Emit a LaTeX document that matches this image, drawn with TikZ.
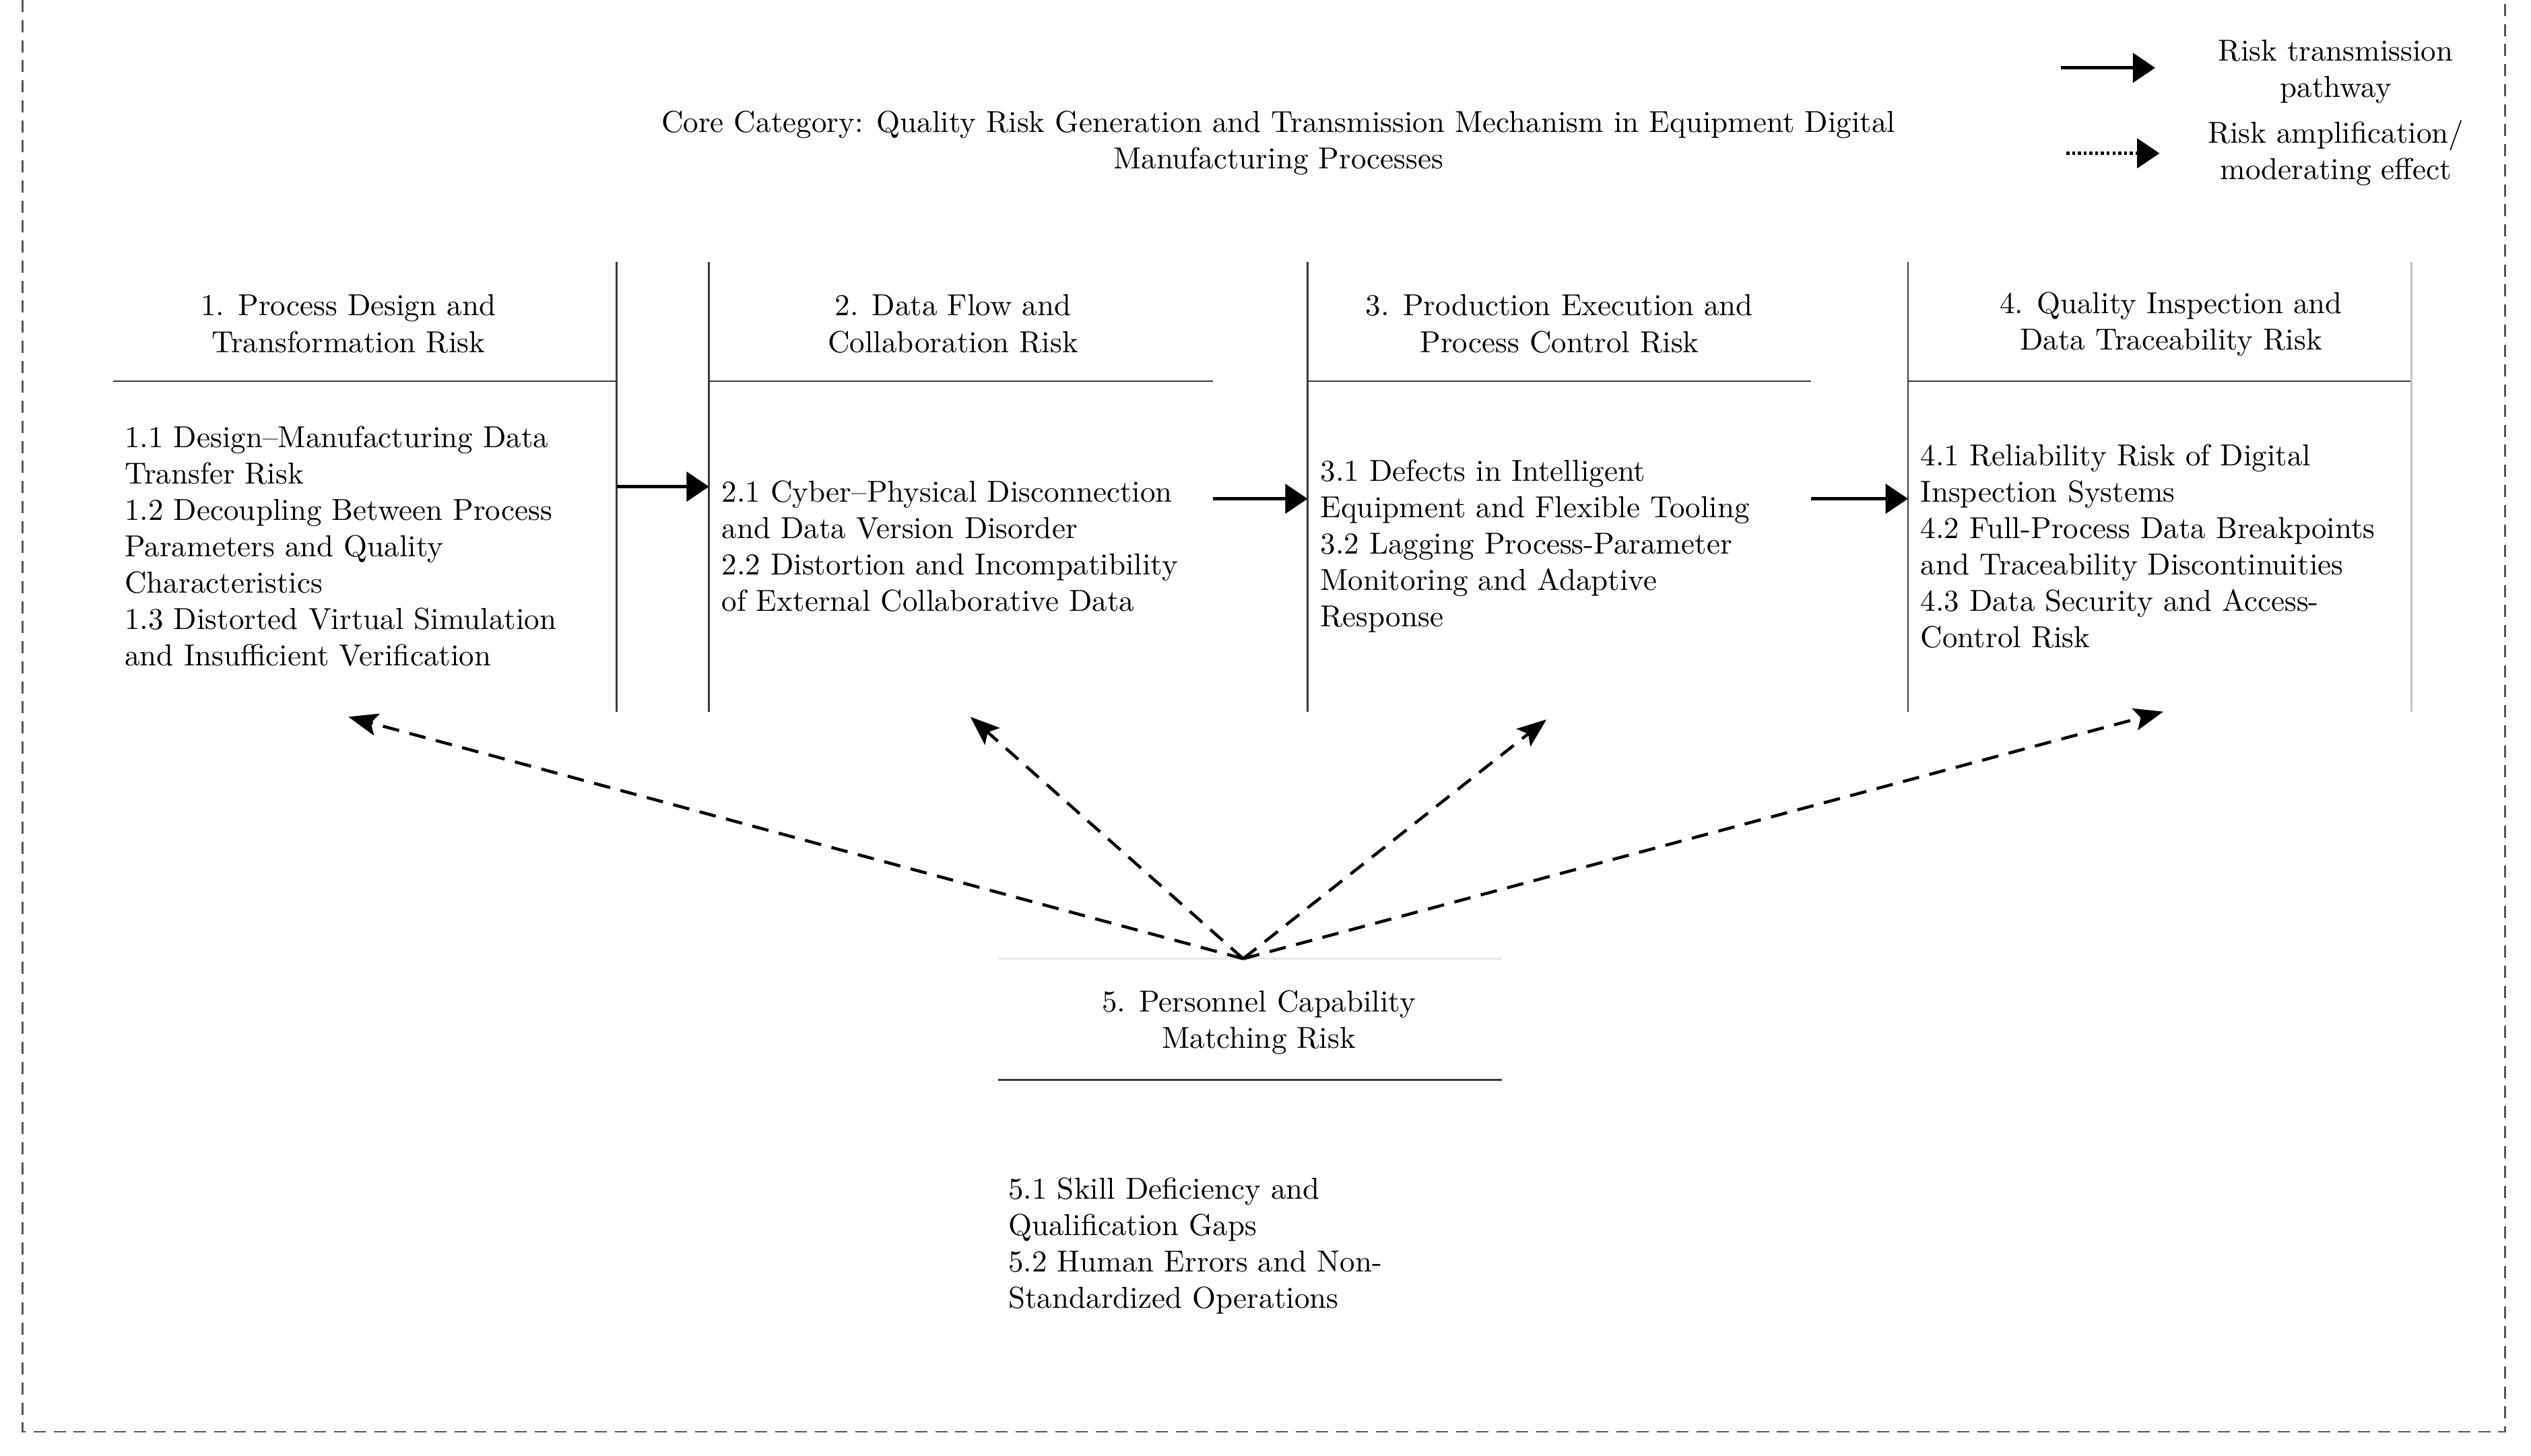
\documentclass[tikz,border=0pt]{standalone}
\usepackage{tikz}
\usetikzlibrary{arrows.meta,positioning,calc}
\definecolor{rulegray}{HTML}{3A3A3A}
\definecolor{framegray}{HTML}{555555}
\definecolor{fadegray}{HTML}{C4C4C4}
\definecolor{fadeblue}{HTML}{E2EAEE}
\tikzset{
  riskcol/.style={
    rectangle,
    draw=none,
    inner sep=0pt,
    outer sep=0pt,
    minimum width=5.83cm,
    minimum height=5.21cm
  },
  head/.style={align=center, inner sep=0pt, font=\normalsize},
  body/.style={align=left, anchor=west, inner sep=0pt, font=\normalsize},
  rule/.style={draw=rulegray, line width=0.6pt},
  line/.style={-{Triangle[length=2.6mm,width=3.4mm]}, line width=1.1pt, draw=black},
  dotline/.style={-{Triangle[length=2.6mm,width=3.4mm]}, line width=1pt, dash pattern=on 1pt off 0.9pt},
  effect/.style={-{Stealth[length=3.4mm,width=2.6mm,inset=0.7mm]}, line width=1pt, dash pattern=on 5.5pt off 3.5pt},
  outerframe/.style={draw=framegray, line width=0.6pt, dash pattern=on 4pt off 2.6pt}
}
\begin{document}
\begin{tikzpicture}
  \useasboundingbox (0,0) rectangle (29.3,-16.855);
  \draw[outerframe] (0.262,0) -- (0.262,-16.575) -- (29.0,-16.575) -- (29.0,0);

  \node[head] (title) at (14.8,-1.654) {Core Category: Quality Risk Generation and Transmission Mechanism in Equipment Digital\\Manufacturing Processes};

  \coordinate (solidA) at (23.86,-0.785);
  \coordinate (solidB) at (24.95,-0.785);
  \coordinate (dotA) at (23.92,-1.775);
  \coordinate (dotB) at (25.0,-1.775);
  \node[head] (legsolid) at (27.04,-0.832) {Risk transmission\\pathway};
  \node[head] (legdot) at (27.04,-1.775) {Risk amplification/\\moderating effect};
  \draw[line] (solidA) -- (solidB);
  \draw[dotline] (dotA) -- (dotB);

  \node[riskcol] (c1) at (4.223,-5.634) {};
  \node[riskcol, right=1.07cm of c1] (c2) {};
  \node[riskcol, right=1.10cm of c2] (c3) {};
  \node[riskcol, right=1.12cm of c3] (c4) {};
  \node[riskcol, anchor=north] (c5) at (14.472,-11.099) {};

  \node[head] (h1) at ([xshift=-0.19cm,yshift=-0.72cm]c1.north) {1. Process Design and\\Transformation Risk};
  \node[head] (h2) at ([xshift=-0.09cm,yshift=-0.72cm]c2.north) {2. Data Flow and\\Collaboration Risk};
  \node[head] (h3) at ([yshift=-0.72cm]c3.north) {3. Production Execution and\\Process Control Risk};
  \node[head] (h4) at ([xshift=0.13cm,yshift=-0.72cm]c4.north) {4. Quality Inspection and\\Data Traceability Risk};
  \node[head] (h5) at ([xshift=0.1cm,yshift=-0.74cm]c5.north) {5. Personnel Capability\\Matching Risk};

  \foreach \c in {c1,c2,c3,c4}
    \draw[rule] ([yshift=-1.383cm]\c.north west) -- ([yshift=-1.383cm]\c.north east);
  \draw[rule] ([yshift=-1.401cm]c5.north west) -- ([yshift=-1.401cm]c5.north east);
  \draw[draw=fadeblue, line width=0.6pt] (c5.north west) -- (c5.north east);

  \draw[rule] (c1.north east) -- (c1.south east);
  \draw[rule] (c2.north west) -- (c2.south west);
  \draw[rule] (c3.north west) -- (c3.south west);
  \draw[rule] (c4.north west) -- (c4.south west);
  \draw[draw=fadegray, line width=0.6pt] (c4.north east) -- (c4.south east);

  \node[body] (b1) at ([xshift=0.13cm,yshift=-0.69cm]c1.west) {1.1 Design--Manufacturing Data\\Transfer Risk\\1.2 Decoupling Between Process\\Parameters and Quality\\Characteristics\\1.3 Distorted Virtual Simulation\\and Insufficient Verification};
  \node[body] (b2) at ([xshift=0.14cm,yshift=-0.69cm]c2.west) {2.1 Cyber--Physical Disconnection\\and Data Version Disorder\\2.2 Distortion and Incompatibility\\of External Collaborative Data};
  \node[body] (b3) at ([xshift=0.14cm,yshift=-0.69cm]c3.west) {3.1 Defects in Intelligent\\Equipment and Flexible Tooling\\3.2 Lagging Process-Parameter\\Monitoring and Adaptive\\Response};
  \node[body] (b4) at ([xshift=0.14cm,yshift=-0.69cm]c4.west) {4.1 Reliability Risk of Digital\\Inspection Systems\\4.2 Full-Process Data Breakpoints\\and Traceability Discontinuities\\4.3 Data Security and Access-\\Control Risk};
  \node[body] (b5) at ([xshift=0.11cm,yshift=-0.72cm]c5.west) {5.1 Skill Deficiency and\\Qualification Gaps\\5.2 Human Errors and Non-\\Standardized Operations};

  \draw[line] (c1.east) -- (c2.west);
  \draw[line] ([yshift=-0.14cm]c2.east) -- ([yshift=-0.14cm]c3.west);
  \draw[line] ([yshift=-0.14cm]c3.east) -- ([yshift=-0.14cm]c4.west);

  \coordinate (hub) at ([xshift=-0.08cm]c5.north);
  \draw[effect] (hub) -- ([xshift=-0.19cm,yshift=-0.06cm]c1.south);
  \draw[effect] (hub) -- ([xshift=0.11cm,yshift=-0.06cm]c2.south);
  \draw[effect] (hub) -- ([xshift=-0.15cm,yshift=-0.09cm]c3.south);
  \draw[effect] (hub) -- ([xshift=0.04cm]c4.south);
\end{tikzpicture}
\end{document}
